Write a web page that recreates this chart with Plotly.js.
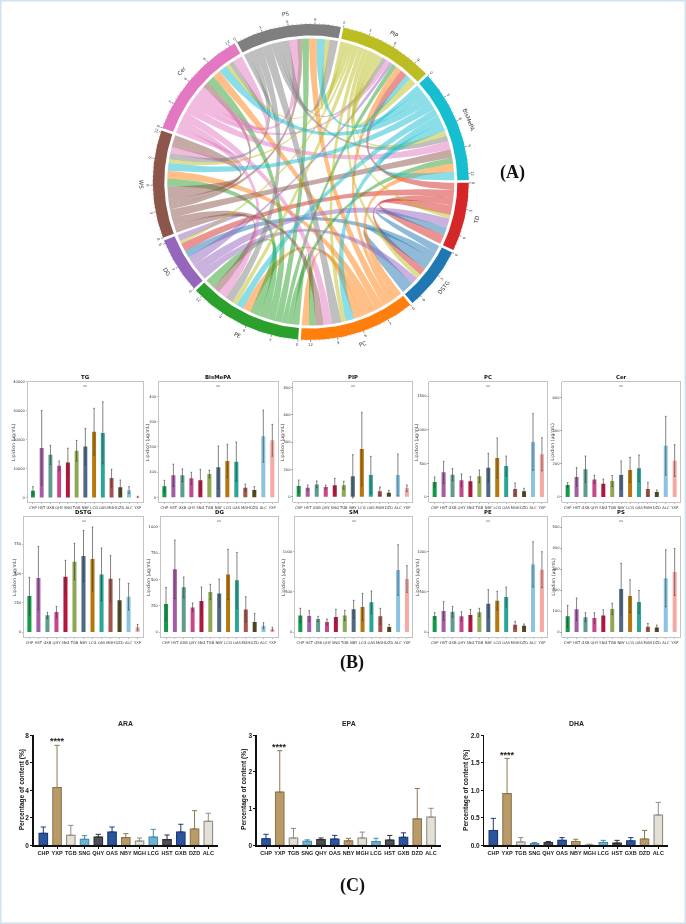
<!DOCTYPE html>
<html><head><meta charset="utf-8">
<script src="https://cdn.plot.ly/plotly-3.0.1.min.js"></script>
<style>html,body{margin:0;padding:0;background:#fff}#g{width:686px;height:924px;filter:blur(0.35px)}</style>
</head><body><div id="g"></div>
<script>
// ---------- Panel A: chord data ----------
const sectors=['TD','DSTG','PC','PE','DG','WS','Cer','PS','PIP','BisMePA'];
const sectorColors=['#d62728','#1f77b4','#ff7f0e','#2ca02c','#9467bd','#8c564b','#e377c2','#7f7f7f','#bcbd22','#17becf'];
const linkFrom=[0,0,0,0, 1,1,1, 2,2,2,2,2,2,2, 3,3,3,3,3,3,3, 4,4,4,4, 5,5,5,5,5,5, 6,6,6,6,6,6,6, 7,7,7,7,7,7,7, 8,8,8,8,8,8,8,8,8,8, 9,9,9,9,9,9,9];
const linkTo=  [1,4,8,0, 0,4,1, 3,5,6,7,8,9,2, 2,5,6,7,8,9,3, 0,1,8,4, 2,3,6,7,9,5, 2,3,5,7,8,9,6, 2,3,5,6,8,9,7, 0,1,2,3,4,5,6,7,9,8, 2,3,5,6,7,8,9];
const linkValue=[.9,1.0,.9,1.2, .9,.9,1.5, 1.0,1.0,1.0,1.0,.7,1.0,.9, .8,1.0,1.0,.9,.6,.75,1.2, 1.2,.9,.4,.8, 1.0,.9,.75,.55,1.05,1.5, 1.0,1.05,.75,1.0,.55,1.05,1.2, 1.2,1.0,.8,.6,.5,.7,1.05, .45,.6,.6,.6,.35,.45,.45,.55,.6,.9, 1.0,.9,.95,1.05,1.0,.6,1.05];
// ---------- Panel B data ----------
const lipidGroups=['CHP','HST','GXB','QHY','SNG','TGB','NBY','LCG','OAS','MGH','DZD','ALC','YXP'];
const lipidColors=['#159a4a','#a55ca6','#5f9c90','#c8478c','#b5163f','#8fa852','#4c6a84','#b8770d','#2aa598','#a4544b','#50491f','#8bc4e2','#f7aaa5'];
const lipidMeanTG=[2300,17100,14700,10900,12100,16100,17600,22700,22300,6700,3500,2500,200];
const lipidTopTG=[3700,30000,18000,12600,17000,19700,23900,30800,33000,9700,6000,3700,400];
const lipidMeanBis=[44,87,87,75,67,92,119,144,141,38,29,242,226];
const lipidTopBis=[67,131,112,99,111,107,203,210,219,52,42,345,289];
const lipidMeanPIP=[78,66,90,71,83,83,149,349,159,39,29,159,61];
const lipidTopPIP=[122,85,115,85,134,112,307,617,295,71,46,312,85];
const lipidMeanPC=[223,366,332,248,233,307,436,579,460,119,84,817,634];
const lipidTopPC=[297,530,421,342,302,401,649,876,609,208,129,1238,881];
const lipidMeanCer=[72,120,167,106,80,96,133,163,173,48,30,309,219];
const lipidTopCer=[86,177,247,131,108,129,217,239,253,88,42,486,315];
const lipidMeanDSTG=[307,460,142,170,472,600,648,622,491,455,270,301,40];
const lipidTopDSTG=[466,730,168,219,611,756,866,895,716,651,452,415,65];
const lipidMeanDG=[266,595,424,234,294,380,367,547,491,215,95,60,28];
const lipidTopDG=[424,873,522,275,427,453,503,785,756,335,177,89,44];
const lipidMeanSM=[207,199,162,124,187,207,282,311,369,195,62,772,660];
const lipidTopSM=[295,266,195,162,282,270,394,481,510,295,95,1087,826];
const lipidMeanPE=[199,261,253,195,212,245,353,390,436,91,79,842,776];
const lipidTopPE=[241,378,320,253,282,295,527,506,560,133,100,1124,1000];
const lipidMeanPS=[75,108,71,67,79,110,205,171,143,25,22,256,286];
const lipidTopPS=[127,162,92,92,106,137,327,249,198,41,33,392,398];
const panelsB=[
 {name:'TG',mean:lipidMeanTG,top:lipidTopTG,ticks:[0,10000,20000,30000,40000],max:40000,min:-1700,box:[27.7,143,381.7,502.3],titleX:14},
 {name:'BisMePA',mean:lipidMeanBis,top:lipidTopBis,ticks:[0,100,200,300,400],max:458,min:-20,box:[159,277.7,381.7,502.3],titleX:148},
 {name:'PIP',mean:lipidMeanPIP,top:lipidTopPIP,ticks:[0,200,400,600,800],max:841,min:-41,box:[293.3,412.3,381.7,502.3],titleX:283},
 {name:'PC',mean:lipidMeanPC,top:lipidTopPC,ticks:[0,500,1000,1500],max:1713,min:-79,box:[429.3,547.3,381.7,502.3],titleX:417},
 {name:'Cer',mean:lipidMeanCer,top:lipidTopCer,ticks:[0,200,400,600],max:695,min:-32,box:[562.3,680,381.7,502.3],titleX:552.7},
 {name:'DSTG',mean:lipidMeanDSTG,top:lipidTopDSTG,ticks:[0,250,500,750],max:983,min:-45,box:[24,143,516.7,637.3],titleX:14},
 {name:'DG',mean:lipidMeanDG,top:lipidTopDG,ticks:[0,250,500,750,1000],max:1095,min:-50,box:[160.7,277.7,516.7,637.3],titleX:148},
 {name:'SM',mean:lipidMeanSM,top:lipidTopSM,ticks:[0,500,1000],max:1436,min:-66,box:[295,412.3,516.7,637.3],titleX:283},
 {name:'PE',mean:lipidMeanPE,top:lipidTopPE,ticks:[0,500,1000],max:1436,min:-66,box:[429.3,547.3,516.7,637.3],titleX:417},
 {name:'PS',mean:lipidMeanPS,top:lipidTopPS,ticks:[0,100,200,300,400,500],max:549,min:-25,box:[562.3,680,516.7,637.3],titleX:552.7}
];
// ---------- Panel C data ----------
const faGroups=['CHP','YXP','TGB','SNG','QHY','OAS','NBY','MGH','LCG','HST','GXB','DZD','ALC'];
const faFill=['#2b549f','#b99b69','#e4e0d6','#70b2d6','#4a4f5a','#2b549f','#b99b69','#e4e0d6','#70b2d6','#4a4f5a','#2b549f','#b99b69','#e4e0d6'];
const faEdge=['#1c3a78','#8c7850','#8e8e86','#4a8ca6','#2e2e34','#1c3a78','#8c7850','#8e8e86','#4a8ca6','#2e2e34','#1c3a78','#8c7850','#8e8e86'];
const araMean=[.87,4.2,.73,.44,.6,.97,.56,.31,.6,.41,.97,1.19,1.75];
const araTop=[1.33,7.27,1.45,.7,.8,1.33,.85,.53,1.16,.75,1.53,2.52,2.33];
const epaMean=[.18,1.45,.2,.11,.155,.17,.12,.2,.1,.14,.22,.72,.77];
const epaTop=[.3,2.58,.46,.15,.2,.27,.19,.36,.19,.27,.34,1.55,1.01];
const dhaMean=[.27,.94,.06,.03,.05,.09,.07,.005,.05,.04,.08,.115,.55];
const dhaTop=[.49,1.58,.14,.05,.07,.14,.11,.02,.09,.09,.14,.27,.78];
const panelsC=[
 {name:'ARA',mean:araMean,top:araTop,ticks:[0,2,4,6,8],text:['0','2','4','6','8'],max:8,left:33.5,right:218.3,c0:43.3,titleX:22.3,starY:741},
 {name:'EPA',mean:epaMean,top:epaTop,ticks:[0,1,2,3],text:['0','1','2','3'],max:3,left:256.7,right:440.7,c0:266,titleX:244,starY:746.5},
 {name:'DHA',mean:dhaMean,top:dhaTop,ticks:[0,.5,1,1.5,2],text:['0.0','0.5','1.0','1.5','2.0'],max:2,left:484.3,right:668.3,c0:493.3,titleX:466,starY:755}
];
// ---------- helpers ----------
const W=686,H=924;
const px=x=>x/W, py=y=>1-y/H;
const traces=[],annotations=[],layout={};
const rgba=(hex,a)=>{const n=parseInt(hex.slice(1),16);return `rgba(${n>>16},${(n>>8)&255},${n&255},${a})`;};
// ---------- Panel A: layout of the chord from the link table ----------
const CX=310.8,CY=182,RIB=143.5,RIN=146.5,ROUT=158,GAP=1;
const pol=(deg,r)=>[r*Math.cos(deg*Math.PI/180),-r*Math.sin(deg*Math.PI/180)];
const n=sectors.length;
const linkIdx=linkValue.map((_,i)=>i);
const order=(i,j)=>((i-j-1)%n+n)%n; // i-1 first ... i+1 last
const totals=sectors.map((_,i)=>linkIdx.reduce((s,k)=>s+(linkFrom[k]===i?linkValue[k]:0)+(linkTo[k]===i?linkValue[k]:0),0));
const unit=(360-n*GAP)/totals.reduce((a,b)=>a+b,0);
const sectorStart=[],sectorEnd=[];
const outSlot={},inSlot={};
let ang=0.3;
sectors.forEach((_,i)=>{
  sectorStart[i]=ang;let a=ang;
  const outs=linkIdx.filter(k=>linkFrom[k]===i&&linkTo[k]!==i).sort((p,q)=>order(i,linkTo[p])-order(i,linkTo[q]));
  const self=linkIdx.filter(k=>linkFrom[k]===i&&linkTo[k]===i);
  const ins=linkIdx.filter(k=>linkTo[k]===i&&linkFrom[k]!==i).sort((p,q)=>order(i,linkFrom[p])-order(i,linkFrom[q]));
  outs.concat(self).forEach(k=>{outSlot[k]=[a,a+linkValue[k]*unit];a+=linkValue[k]*unit;});
  ins.concat(self).forEach(k=>{inSlot[k]=[a,a+linkValue[k]*unit];a+=linkValue[k]*unit;});
  sectorEnd[i]=a;ang=a+GAP;
});
function arcPts(a,b,r,out){const m=Math.max(2,Math.ceil(Math.abs(b-a)));for(let t=0;t<=m;t++){out.push(pol(a+(b-a)*t/m,r));}}
function bez(p0,p2,out){for(let t=1;t<40;t++){const u=t/40,a=(1-u)*(1-u),b=u*u;out.push([a*p0[0]+b*p2[0],a*p0[1]+b*p2[1]]);}}
linkIdx.forEach(k=>{
  const [a1,a2]=outSlot[k],[b1,b2]=inSlot[k];
  const p=[];
  arcPts(a1,a2,RIB,p);bez(pol(a2,RIB),pol(b1,RIB),p);arcPts(b1,b2,RIB,p);bez(pol(b2,RIB),pol(a1,RIB),p);
  p.push(p[0]);
  traces.push({type:'scatter',mode:'lines',x:p.map(q=>q[0]),y:p.map(q=>q[1]),fill:'toself',fillcolor:rgba(sectorColors[linkFrom[k]],.5),line:{width:0,color:'rgba(0,0,0,0)'},hoverinfo:'skip',showlegend:false,xaxis:'x',yaxis:'y'});
});
const tickX=[],tickY=[],minorX=[],minorY=[];
const rot=a=>{let t=a+90;while(t>90)t-=180;return t;};
sectors.forEach((s,i)=>{
  const p=[];arcPts(sectorStart[i],sectorEnd[i],ROUT,p);arcPts(sectorEnd[i],sectorStart[i],RIN,p);p.push(p[0]);
  traces.push({type:'scatter',mode:'lines',x:p.map(q=>q[0]),y:p.map(q=>q[1]),fill:'toself',fillcolor:sectorColors[i],line:{width:0,color:sectorColors[i]},hoverinfo:'skip',showlegend:false,xaxis:'x',yaxis:'y'});
  const mid=(sectorStart[i]+sectorEnd[i])/2;
  const lp=pol(mid,170);
  annotations.push({x:lp[0],y:lp[1],xref:'x',yref:'y',text:s,showarrow:false,textangle:rot(mid),font:{family:'DejaVu Sans',size:5.6,color:'#333'},xanchor:'center',yanchor:'middle'});
  for(let v=0;v*unit<=sectorEnd[i]-sectorStart[i]+.01;v+=.5){
    const a=sectorStart[i]+v*unit;
    const major=Math.abs(v%3)<1e-6;
    const A=pol(a,ROUT),B=pol(a,ROUT+(major?2:1));
    if(major){tickX.push(A[0],B[0],null);tickY.push(A[1],B[1],null);
      const t=pol(a,162.6);
      annotations.push({x:t[0],y:t[1],xref:'x',yref:'y',text:String(v),showarrow:false,textangle:rot(a),font:{family:'DejaVu Sans',size:3.8,color:'#444'},xanchor:'center',yanchor:'middle'});
    } else {minorX.push(A[0],B[0],null);minorY.push(A[1],B[1],null);}
  }
});
traces.push({type:'scatter',mode:'lines',x:tickX,y:tickY,line:{width:.6,color:'#444'},hoverinfo:'skip',showlegend:false,xaxis:'x',yaxis:'y'});
traces.push({type:'scatter',mode:'lines',x:minorX,y:minorY,line:{width:.35,color:'#666'},hoverinfo:'skip',showlegend:false,xaxis:'x',yaxis:'y'});
const XL=130,XR=490,YT=3,YB=365;
layout.xaxis={domain:[px(XL),px(XR)],range:[XL-CX,XR-CX],visible:false,fixedrange:true};
layout.yaxis={domain:[py(YB),py(YT)],range:[CY-YB,CY-YT],visible:false,fixedrange:true};
// ---------- Panel B ----------
let axN=2;
panelsB.forEach(pb=>{
  const [l,r,t,b]=pb.box;const xn='xaxis'+axN,yn='yaxis'+axN,xs='x'+axN,ys='y'+axN;
  traces.push({type:'bar',x:lipidGroups,y:pb.mean,width:.45,marker:{color:lipidColors,line:{width:0}},
    error_y:{type:'data',array:pb.top.map((v,i)=>v-pb.mean[i]),visible:true,color:'rgba(60,60,60,.8)',thickness:.8,width:.8},
    hoverinfo:'skip',showlegend:false,xaxis:xs,yaxis:ys});
  layout[xn]={domain:[px(l),px(r)],anchor:ys,type:'category',categoryorder:'array',categoryarray:lipidGroups,range:[-.6,12.6],showline:true,mirror:true,linecolor:'#b4b4b4',linewidth:.8,ticks:'outside',ticklen:1.2,tickwidth:.4,tickcolor:'#555',tickangle:0,tickfont:{family:'DejaVu Sans',size:3.7,color:'#333'},showgrid:false,zeroline:false,fixedrange:true,automargin:false};
  layout[yn]={domain:[py(b),py(t)],anchor:xs,range:[pb.min,pb.max],tickvals:pb.ticks,ticktext:pb.ticks.map(String),showline:true,mirror:true,linecolor:'#b4b4b4',linewidth:.8,ticks:'outside',ticklen:1.2,tickwidth:.4,tickcolor:'#555',tickfont:{family:'DejaVu Sans',size:3.7,color:'#333'},showgrid:false,zeroline:false,fixedrange:true,automargin:false};
  annotations.push({x:px(pb.titleX),y:py((t+b)/2),xref:'paper',yref:'paper',text:'Lipidion (μg/mL)',textangle:-90,showarrow:false,font:{family:'DejaVu Sans',size:4.6,color:'#333'},xanchor:'center',yanchor:'middle'});
  annotations.push({x:px((l+r)/2),y:py(t-4.5),xref:'paper',yref:'paper',text:'<b>'+pb.name+'</b>',showarrow:false,font:{family:'DejaVu Sans',size:5.4,color:'#111'},xanchor:'center',yanchor:'middle'});
  annotations.push({x:px((l+r)/2),y:py(t+5),xref:'paper',yref:'paper',text:'**',showarrow:false,font:{family:'DejaVu Sans',size:4,color:'#333'},xanchor:'center',yanchor:'middle'});
  axN++;
});
// ---------- Panel C ----------
const CT=735.3,CB=845.3,STEP=13.75;
panelsC.forEach(pc=>{
  const xn='xaxis'+axN,yn='yaxis'+axN,xs='x'+axN,ys='y'+axN;
  faGroups.forEach((g,i)=>{
    traces.push({type:'bar',x:[g],y:[pc.mean[i]],width:.62,marker:{color:faFill[i],line:{color:faEdge[i],width:1.1}},
      error_y:{type:'data',symmetric:false,array:[pc.top[i]-pc.mean[i]],arrayminus:[0],visible:true,color:faEdge[i],thickness:1,width:2.6},
      hoverinfo:'skip',showlegend:false,xaxis:xs,yaxis:ys});
  });
  const x0=(pc.left-pc.c0)/STEP,x1=(pc.right-pc.c0)/STEP;
  layout[xn]={domain:[px(pc.left),px(pc.right)],anchor:ys,type:'category',categoryorder:'array',categoryarray:faGroups,range:[x0,x1],showline:true,linecolor:'#111',linewidth:1.3,ticks:'outside',ticklen:2,tickwidth:1,tickcolor:'#111',tickangle:0,tickfont:{family:'Liberation Sans',size:5.5,color:'#222',weight:'bold'},showgrid:false,zeroline:false,fixedrange:true};
  layout[yn]={domain:[py(CB),py(CT)],anchor:xs,range:[0,pc.max],tickvals:pc.ticks,ticktext:pc.text,showline:true,linecolor:'#111',linewidth:1.3,ticks:'outside',ticklen:2,tickwidth:1,tickcolor:'#111',tickfont:{family:'Liberation Sans',size:6.5,color:'#222',weight:'bold'},showgrid:false,zeroline:false,fixedrange:true};
  annotations.push({x:px(pc.titleX),y:py(790),xref:'paper',yref:'paper',text:'<b>Percentage of content (%)</b>',textangle:-90,showarrow:false,font:{family:'Liberation Sans',size:6.6,color:'#222'},xanchor:'center',yanchor:'middle'});
  annotations.push({x:px((pc.left+pc.right)/2),y:py(723),xref:'paper',yref:'paper',text:'<b>'+pc.name+'</b>',showarrow:false,font:{family:'Liberation Sans',size:6.9,color:'#222'},xanchor:'center',yanchor:'middle'});
  annotations.push({x:px(pc.c0+STEP),y:py(pc.starY),xref:'paper',yref:'paper',text:'<b>****</b>',showarrow:false,font:{family:'Liberation Sans',size:9,color:'#222'},xanchor:'center',yanchor:'middle'});
  axN++;
});
// ---------- Panel letters ----------
[['(A)',512,172],['(B)',352,662],['(C)',352,885]].forEach(([t,x,y])=>{
  annotations.push({x:px(x),y:py(y),xref:'paper',yref:'paper',text:'<b>'+t+'</b>',showarrow:false,font:{family:'Liberation Serif',size:18,color:'#111'},xanchor:'center',yanchor:'middle'});
});
Object.assign(layout,{width:W,height:H,margin:{l:0,r:0,t:0,b:0},paper_bgcolor:'#fff',plot_bgcolor:'rgba(0,0,0,0)',showlegend:false,barmode:'overlay',annotations,
  shapes:[{type:'rect',xref:'paper',yref:'paper',x0:0,x1:1,y0:0,y1:1,line:{color:'#cfe2ee',width:3},fillcolor:'rgba(0,0,0,0)',layer:'above'}]});
Plotly.newPlot('g',traces,layout,{displayModeBar:false,staticPlot:true});
</script></body></html>
